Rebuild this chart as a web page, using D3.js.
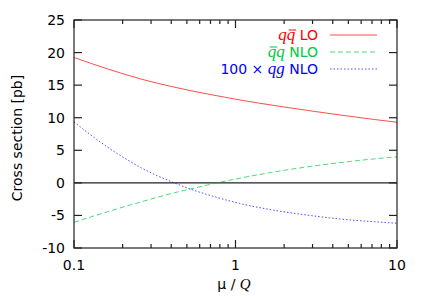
<!DOCTYPE html>
<html>
<head>
<script src="https://d3js.org/d3.v7.min.js"></script>
<style>
  body { margin: 0; background: #fff; }
  text { font-family: "DejaVu Sans", sans-serif; font-size: 14px; }
  .it { font-family: "Liberation Serif", "DejaVu Serif", serif; font-style: italic; font-size: 17px; }
</style>
</head>
<body>
<svg width="425" height="298"></svg>
<script>
// mu / Q sample points
var mu = [0.1, 0.127, 0.161, 0.204, 0.259, 0.417, 0.528, 0.67, 1.08, 1.73, 2.79, 4.49, 7.24, 10];
// q qbar LO
var lo = [19.25, 18.35, 17.5, 16.7, 15.95, 14.7, 14.15, 13.65, 12.7, 11.88, 11.12, 10.4, 9.73, 9.3];
// qbar q NLO
var nlo = [-6.07, -5.23, -4.44, -3.67, -2.93, -1.53, -0.94, -0.33, 0.75, 1.67, 2.46, 3.12, 3.68, 4.0];
// 100 x qg NLO
var qg = [9.34, 7.35, 5.5, 3.85, 2.35, 0, -0.97, -1.8, -3.2, -4.2, -4.95, -5.56, -5.97, -6.2];

var yTicks = [-10, -5, 0, 5, 10, 15, 20, 25];
var xTicks = [0.1, 1, 10];

var svg = d3.select("svg");
var mLeft = 74, mRight = 397, mTop = 20, mBottom = 248;

var x = d3.scaleLog().domain([0.1, 10]).range([mLeft, mRight]);
var y = d3.scaleLinear().domain([-10, 25]).range([mBottom, mTop]);

var minor = [];
[0.1, 1].forEach(function(d){ for (var k = 2; k < 10; k++) minor.push(d * k); });

// zero line
svg.append("line")
    .attr("x1", mLeft).attr("x2", mRight)
    .attr("y1", y(0)).attr("y2", y(0))
    .attr("stroke", "#222").attr("stroke-width", 1.2);

// ticks (mirrored, gnuplot style)
var tk = svg.append("g").attr("stroke", "#222").attr("stroke-width", 1.2);
yTicks.forEach(function(v){
    tk.append("line").attr("x1", mLeft).attr("x2", mLeft + 8).attr("y1", y(v)).attr("y2", y(v));
    tk.append("line").attr("x1", mRight).attr("x2", mRight - 8).attr("y1", y(v)).attr("y2", y(v));
});
xTicks.forEach(function(v){
    tk.append("line").attr("x1", x(v)).attr("x2", x(v)).attr("y1", mBottom).attr("y2", mBottom - 8);
    tk.append("line").attr("x1", x(v)).attr("x2", x(v)).attr("y1", mTop).attr("y2", mTop + 8);
});
minor.forEach(function(v){
    tk.append("line").attr("x1", x(v)).attr("x2", x(v)).attr("y1", mBottom).attr("y2", mBottom - 4);
    tk.append("line").attr("x1", x(v)).attr("x2", x(v)).attr("y1", mTop).attr("y2", mTop + 4);
});

// tick labels
svg.append("g").selectAll("text").data(yTicks).join("text")
    .attr("x", mLeft - 9).attr("y", d => y(d)).attr("dy", "0.36em")
    .attr("text-anchor", "end").text(d => d);
svg.append("g").selectAll("text").data(xTicks).join("text")
    .attr("x", d => x(d)).attr("y", mBottom + 22)
    .attr("text-anchor", "middle").text(d => d);

// axis titles
svg.append("text")
    .attr("transform", "translate(22," + ((mTop + mBottom) / 2 + 4) + ") rotate(-90)")
    .attr("text-anchor", "middle").text("Cross section [pb]");
var xl = svg.append("text").attr("x", 234).attr("y", 289).attr("text-anchor", "middle");
xl.append("tspan").text("\u03bc / ");
xl.append("tspan").attr("class", "it").style("font-size", "15px").text("Q");

// curves
var line = d3.line().x(d => x(d[0])).y(d => y(d[1])).curve(d3.curveMonotoneX);
var series = [
    {vals: lo, color: "#ff0000", dash: null},
    {vals: nlo, color: "#00c840", dash: "5,3"},
    {vals: qg, color: "#0000ff", dash: "1.5,2"}
];
series.forEach(function(s){
    svg.append("path")
        .datum(d3.zip(mu, s.vals))
        .attr("d", line)
        .attr("fill", "none")
        .attr("stroke", s.color)
        .attr("stroke-opacity", 0.7)
        .attr("stroke-width", 1)
        .attr("stroke-dasharray", s.dash);
});

// legend (bar = index of the q that gets an overbar, counted in the whole text)
var leg = [
    {pre: "", it: "qq", label: " LO", bar: 1},
    {pre: "", it: "qq", label: " NLO", bar: 0},
    {pre: "100 \u00d7 ", it: "qg", label: " NLO", bar: -1}
];
leg.forEach(function(l, i){
    var yy = 35 + i * 17;
    var t = svg.append("text").attr("x", 318).attr("y", yy).attr("dy", "0.36em")
        .attr("text-anchor", "end").attr("fill", series[i].color);
    if (l.pre) t.append("tspan").text(l.pre);
    t.append("tspan").attr("class", "it").text(l.it);
    t.append("tspan").text(l.label);
    if (l.bar >= 0) {
        var e = t.node().getExtentOfChar(l.pre.length + l.bar);
        svg.append("line")
            .attr("x1", e.x + 2).attr("x2", e.x + e.width + 1)
            .attr("y1", yy - 5).attr("y2", yy - 5)
            .attr("stroke", series[i].color).attr("stroke-width", 1);
    }
    svg.append("line")
        .attr("x1", 330).attr("x2", 377).attr("y1", yy).attr("y2", yy)
        .attr("stroke", series[i].color).attr("stroke-opacity", 0.7)
        .attr("stroke-width", 1)
        .attr("stroke-dasharray", series[i].dash);
});

// frame
svg.append("rect")
    .attr("x", mLeft).attr("y", mTop)
    .attr("width", mRight - mLeft).attr("height", mBottom - mTop)
    .attr("fill", "none").attr("stroke", "#222").attr("stroke-width", 1.2);
</script>
</body>
</html>
